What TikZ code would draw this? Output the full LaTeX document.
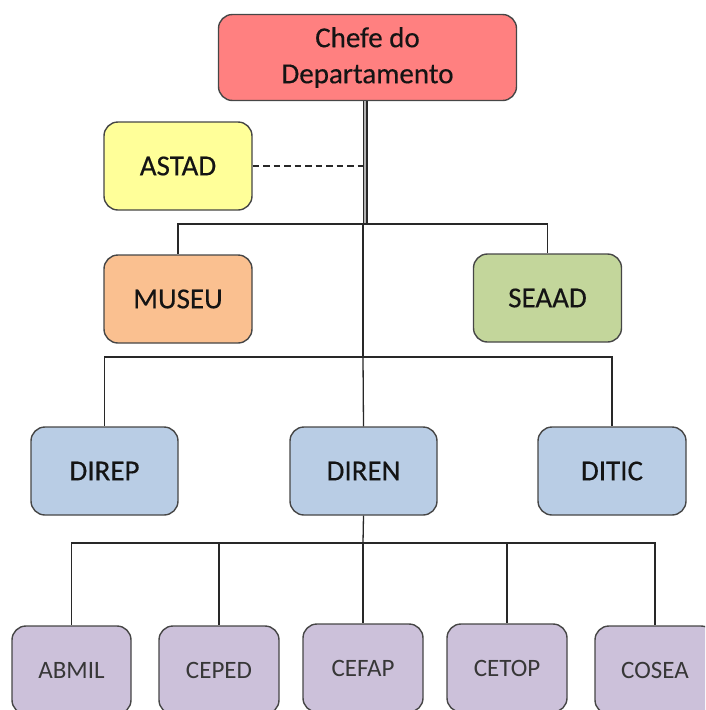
\documentclass[tikz,border=0pt]{standalone}
\usepackage{fontspec}
\setmainfont{Carlito}
\newfontfamily\labelfont[FakeBold=0.35]{Carlito}
\definecolor{chefefill}{RGB}{255,128,128}
\definecolor{astadfill}{RGB}{255,255,153}
\definecolor{museufill}{RGB}{250,192,144}
\definecolor{seaadfill}{RGB}{195,214,155}
\definecolor{dirfill}{RGB}{185,205,229}
\definecolor{cefill}{RGB}{204,193,218}
\definecolor{edge}{RGB}{70,70,70}
\definecolor{wire}{RGB}{40,40,40}
\definecolor{ink}{RGB}{20,20,20}
\tikzset{
  unit/.style={draw=edge, line width=1.4pt, rounded corners=14pt, align=center,
    inner sep=0pt, text=ink, font=\labelfont\fontsize{29}{36}\selectfont},
  bigbox/.style={unit, minimum width=148pt, minimum height=88pt},
  smallbox/.style={unit, minimum width=120pt, minimum height=88pt,
    font=\fontsize{25}{30}\selectfont, text=ink!85},
  wirestyle/.style={draw=wire, line width=1.3pt},
}
\begin{document}
\begin{tikzpicture}[x=1pt, y=-1pt]
\useasboundingbox (0,0) rectangle (705,710);
\clip (0,0) rectangle (705,710);

% boxes
\node[unit, fill=chefefill, minimum width=298pt, minimum height=86pt] (chefe) at (367.5,57.5) {Chefe do\\Departamento};
\node[bigbox, fill=astadfill] (astad) at (178,166) {ASTAD};
\node[bigbox, fill=museufill] (museu) at (178,299) {MUSEU};
\node[bigbox, fill=seaadfill] (seaad) at (547.5,298) {SEAAD};
\node[bigbox, fill=dirfill, minimum width=147pt] (direp) at (104.5,471) {DIREP};
\node[bigbox, fill=dirfill, minimum width=147pt] (diren) at (363.5,471) {DIREN};
\node[bigbox, fill=dirfill] (ditic) at (612,471) {DITIC};
\node[smallbox, fill=cefill, minimum width=119pt] (abmil) at (71.5,670) {ABMIL};
\node[smallbox, fill=cefill] (ceped) at (219,670) {CEPED};
\node[smallbox, fill=cefill] (cefap) at (363,668) {CEFAP};
\node[smallbox, fill=cefill] (cetop) at (507,668) {CETOP};
\node[smallbox, fill=cefill] (cosea) at (655,670) {COSEA};

% junction points
\coordinate (j1) at (363,224);
\coordinate (j2) at (363,357);
\coordinate (j3) at (363,543);
\coordinate (astadtap) at (363,166);

% connectors
\draw[draw=wire, line width=1.5pt, double=gray!60, double distance=2pt]
  (chefe.south -| 365,0) -- (365,224);
\draw[wirestyle, line width=1.8pt, dash pattern=on 6.5pt off 4pt] (astad.east) -- (astadtap);
\draw[wirestyle] (j1) -| (museu.north);
\draw[wirestyle] (j1) -| (seaad.north);
\draw[wirestyle] (j1) -- (j2);
\draw[wirestyle] (j2) -| (direp.north);
\draw[wirestyle] (j2) -- (diren.north);
\draw[wirestyle] (j2) -| (ditic.north);
\draw[wirestyle] (diren.south) -- (j3);
\draw[wirestyle] (j3) -| (abmil.north);
\draw[wirestyle] (j3) -| (ceped.north);
\draw[wirestyle] (j3) -- (cefap.north);
\draw[wirestyle] (j3) -| (cetop.north);
\draw[wirestyle] (j3) -| (cosea.north);
\end{tikzpicture}
\end{document}
